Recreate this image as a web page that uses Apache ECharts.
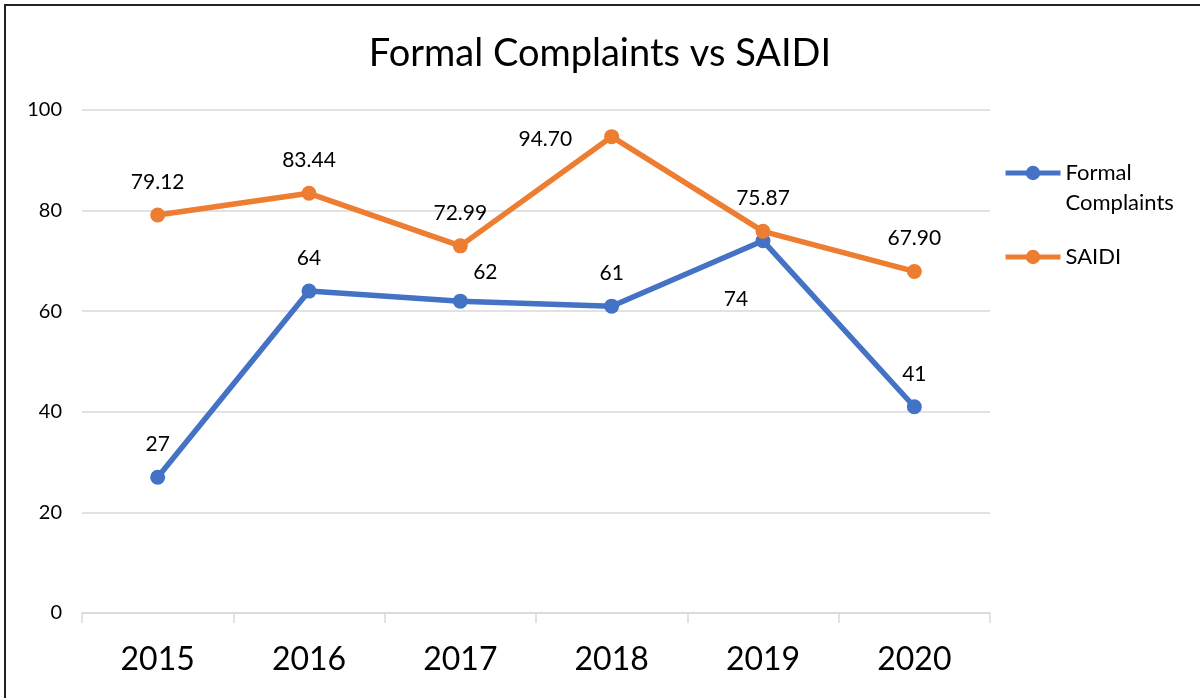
<!DOCTYPE html>
<html>
<head>
<meta charset="utf-8">
<title>Formal Complaints vs SAIDI</title>
<script src="https://cdn.jsdelivr.net/npm/echarts@6/dist/echarts.min.js"></script>
<style>
  html, body { margin: 0; padding: 0; background: #fff; }
  #chart { width: 1200px; height: 698px; }
</style>
</head>
<body>
<div id="chart"></div>
<script>
// data
var years = ['2015', '2016', '2017', '2018', '2019', '2020']
var formalComplaints = [27, 64, 62, 61, 74, 41]
var saidi = [79.12, 83.44, 72.99, 94.70, 75.87, 67.90]
var yTicks = [0, 20, 40, 60, 80, 100]

var FONT = 'Lato, "Open Sans", sans-serif'
var BLUE = '#4472C4'
var ORANGE = '#ED7D31'

// label tweaks per point (Excel placed a few by hand)
var blueLabels = {
  2: { position: 'top', offset: [25, 4] },
  4: { position: 'bottom', offset: [-27, 25] }
}
var orangeLabels = {
  3: { position: 'left', distance: 32, offset: [0, 3] }
}

function buildData(values, overrides) {
  return values.map(function (v, i) {
    var item = { value: v }
    if (overrides[i]) item.label = overrides[i]
    return item
  })
}

var legendText = { fontFamily: FONT, fontSize: 22, color: '#000', lineHeight: 30 }

var chart = echarts.init(document.getElementById('chart'))
chart.setOption({
  animation: false,
  backgroundColor: '#fff',
  textStyle: { fontFamily: FONT },
  title: {
    text: 'Formal Complaints vs SAIDI',
    left: 'center',
    top: 30,
    textStyle: { fontFamily: FONT, fontSize: 38, fontWeight: 'normal', color: '#000' }
  },
  graphic: [
    {
      type: 'polyline',
      shape: { points: [[5, 720], [5, 5], [1205, 5]] },
      style: { stroke: '#222', lineWidth: 2, fill: null }
    }
  ],
  legend: [
    {
      orient: 'vertical',
      left: 1003,
      top: 128,
      padding: 0,
      itemWidth: 55,
      itemHeight: 18,
      lineStyle: { width: 5 },
      data: ['Formal Complaints'],
      // empty first line keeps the marker level with "Formal"
      formatter: function () { return '\nFormal\nComplaints' },
      textStyle: legendText
    },
    {
      orient: 'vertical',
      left: 1003,
      top: 242,
      padding: 0,
      itemWidth: 55,
      itemHeight: 18,
      lineStyle: { width: 5 },
      data: ['SAIDI'],
      textStyle: legendText
    }
  ],
  grid: { left: 82, right: 210, top: 110, bottom: 85 },
  xAxis: {
    type: 'category',
    data: years,
    boundaryGap: true,
    axisLine: { lineStyle: { color: '#d9d9d9', width: 1.5 } },
    axisTick: { show: true, length: 10, lineStyle: { color: '#d9d9d9', width: 1.5 } },
    axisLabel: { fontFamily: FONT, fontSize: 32, color: '#000', margin: 31 }
  },
  yAxis: {
    type: 'value',
    min: yTicks[0],
    max: yTicks[yTicks.length - 1],
    interval: 20,
    axisLine: { show: false },
    axisTick: { show: false },
    axisLabel: { fontFamily: FONT, fontSize: 20, color: '#000', margin: 20 },
    splitLine: { lineStyle: { color: '#d9d9d9', width: 1.5 } }
  },
  series: [
    {
      name: 'Formal Complaints',
      type: 'line',
      data: buildData(formalComplaints, blueLabels),
      symbol: 'circle',
      symbolSize: 15,
      itemStyle: { color: BLUE },
      lineStyle: { color: BLUE, width: 5.5 },
      label: {
        show: true,
        position: 'top',
        distance: 15,
        fontFamily: FONT,
        fontSize: 21,
        color: '#000'
      }
    },
    {
      name: 'SAIDI',
      type: 'line',
      data: buildData(saidi, orangeLabels),
      symbol: 'circle',
      symbolSize: 15,
      itemStyle: { color: ORANGE },
      lineStyle: { color: ORANGE, width: 5.5 },
      label: {
        show: true,
        position: 'top',
        distance: 15,
        fontFamily: FONT,
        fontSize: 21,
        color: '#000',
        formatter: function (p) { return p.value.toFixed(2) }
      }
    }
  ]
})
</script>
</body>
</html>
